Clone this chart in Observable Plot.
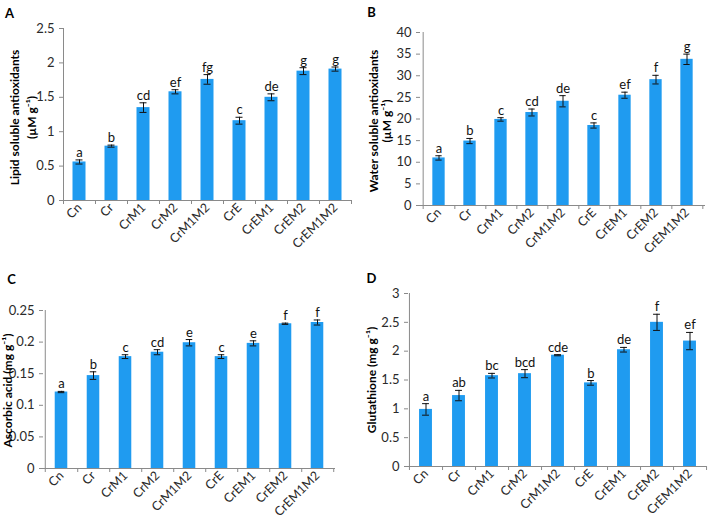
<!DOCTYPE html>
<html><head><meta charset="utf-8">
<script src="https://cdn.jsdelivr.net/npm/d3@7"></script>
<script src="https://cdn.jsdelivr.net/npm/@observablehq/plot@0.6"></script>
<style>
body{margin:0;background:#fff;}
#fig{position:relative;width:708px;height:518px;font-family:Lato,sans-serif;}
.panel{position:absolute;}
.panel svg{overflow:visible;}
</style></head><body><div id="fig"></div>
<script>
const categories = ["Cn","Cr","CrM1","CrM2","CrM1M2","CrE","CrEM1","CrEM2","CrEM1M2"];

const lipidValues  = [0.56, 0.79, 1.35, 1.58, 1.76, 1.16, 1.50, 1.88, 1.91];
const lipidErrors  = [0.03, 0.015, 0.07, 0.03, 0.07, 0.05, 0.05, 0.05, 0.03];
const lipidLetters = ["a","b","cd","ef","fg","c","de","g","g"];
const lipidTicks   = [0, 0.5, 1, 1.5, 2, 2.5];

const waterValues  = [11.0, 14.9, 19.9, 21.5, 24.1, 18.5, 25.5, 29.1, 33.8];
const waterErrors  = [0.5, 0.6, 0.4, 0.8, 1.3, 0.6, 0.7, 1.0, 1.2];
const waterLetters = ["a","b","c","cd","de","c","ef","f","g"];
const waterTicks   = [0, 5, 10, 15, 20, 25, 30, 35, 40];

const ascorbicValues  = [0.121, 0.147, 0.177, 0.184, 0.199, 0.177, 0.198, 0.229, 0.231];
const ascorbicErrors  = [0.001, 0.006, 0.003, 0.004, 0.005, 0.003, 0.004, 0.001, 0.004];
const ascorbicLetters = ["a","b","c","cd","e","c","e","f","f"];
const ascorbicTicks   = [0, 0.05, 0.1, 0.15, 0.2, 0.25];

const glutValues  = [0.99, 1.23, 1.575, 1.61, 1.93, 1.45, 2.025, 2.50, 2.175];
const glutErrors  = [0.10, 0.09, 0.04, 0.07, 0.01, 0.04, 0.04, 0.14, 0.15];
const glutLetters = ["a","ab","bc","bcd","cde","b","de","f","ef"];
const glutTicks   = [0, 0.5, 1, 1.5, 2, 2.5, 3];

const BLUE = "#1f9bf0", GRAY = "#8a8a8a", TEXT = "#2a2a2a";

function panel(o) {
  const width = 354, height = 259;
  const data = categories.map((c, i) => ({c, v: o.values[i], e: o.errors[i], l: o.letters[i]}));
  const step = (width - o.ml - o.mr) / categories.length;
  const plotH = height - o.mt - o.mb;
  const yMax = o.ticks[o.ticks.length - 1];
  const ext = 4 * yMax / plotH;
  const barInset = (step - 13) / 2;
  const capInset = (step - 7) / 2;
  const svg = Plot.plot({
    width, height,
    marginLeft: o.ml, marginRight: o.mr, marginTop: o.mt, marginBottom: o.mb,
    style: {fontFamily: "Lato, sans-serif", fontSize: "12px", color: TEXT, background: "transparent"},
    x: {domain: categories, padding: 0},
    y: {domain: [0, yMax]},
    marks: [
      Plot.barY(data, {x: "c", y: "v", fill: BLUE, insetLeft: barInset, insetRight: barInset}),
      Plot.ruleX(data, {x: "c", y1: d => d.v - d.e, y2: d => d.v + d.e, stroke: "#111", strokeWidth: 1}),
      Plot.tickY(data, {x: "c", y: d => d.v + d.e, stroke: "#111", insetLeft: capInset, insetRight: capInset}),
      Plot.tickY(data, {x: "c", y: d => d.v - d.e, stroke: "#111", insetLeft: capInset, insetRight: capInset}),
      Plot.text(data, {x: "c", y: d => d.v + d.e, text: "l", dy: -3, lineAnchor: "bottom", fontSize: 13, fill: "#111"}),
      Plot.ruleY([0], {stroke: GRAY}),
      Plot.ruleX([categories[0]], {x: d => d, dx: -step / 2, y1: -ext, y2: yMax, stroke: GRAY}),
      Plot.ruleX(categories, {x: d => d, dx: step / 2, y1: -ext, y2: 0, stroke: GRAY}),
      Plot.axisY({ticks: o.ticks, tickSize: 4, tickPadding: 5, stroke: GRAY, fill: TEXT, label: null, fontSize: 13, tickFormat: d => String(d)}),
      Plot.axisX({tickSize: 0, tickPadding: 5, tickRotate: -45, label: null, fill: TEXT, fontSize: 12.5}),
      Plot.text([o.title], {frameAnchor: "left", textAnchor: "middle", rotate: -90, dx: -o.titleDx, dy: o.titleDy || 0, fontWeight: "bold", fontSize: 12, lineHeight: o.lh, fill: "#000"}),
      Plot.text([o.letter], {frameAnchor: "top-left", textAnchor: "middle", dx: o.lx - o.ml, dy: o.ly - o.mt, fontWeight: "bold", fontSize: 13, fill: "#000"})
    ]
  });
  const div = document.createElement("div");
  div.className = "panel";
  div.style.left = o.left + "px";
  div.style.top = o.top + "px";
  div.appendChild(svg);
  document.getElementById("fig").appendChild(div);
}

panel({letter: "A", title: "Lipid soluble antioxidants\n(µM g⁻¹)", values: lipidValues, errors: lipidErrors, letters: lipidLetters, ticks: lipidTicks,
  left: 0, top: 0, ml: 63, mr: 3, mt: 28, mb: 59, titleDx: 41.5, titleDy: 3, lh: 1.4, lx: 9, ly: 8});
panel({letter: "B", title: "Water soluble antioxidants\n(µM g⁻¹)", values: waterValues, errors: waterErrors, letters: waterLetters, ticks: waterTicks,
  left: 354, top: 0, ml: 66, mr: 3, mt: 32, mb: 54, titleDx: 40, titleDy: 2, lh: 1.1, lx: 17, ly: 7});
panel({letter: "C", title: "Ascorbic acid (mg g⁻¹)", values: ascorbicValues, errors: ascorbicErrors, letters: ascorbicLetters, ticks: ascorbicTicks,
  left: 0, top: 259, ml: 43, mr: 19, mt: 51, mb: 50, titleDx: 35, titleDy: 1, lh: 1, lx: 11, ly: 15});
panel({letter: "D", title: "Glutathione (mg g⁻¹)", values: glutValues, errors: glutErrors, letters: glutLetters, ticks: glutTicks,
  left: 354, top: 259, ml: 54, mr: 2, mt: 34, mb: 52, titleDx: 36, titleDy: 0, lh: 1, lx: 17, ly: 14});
</script>
</body></html>
